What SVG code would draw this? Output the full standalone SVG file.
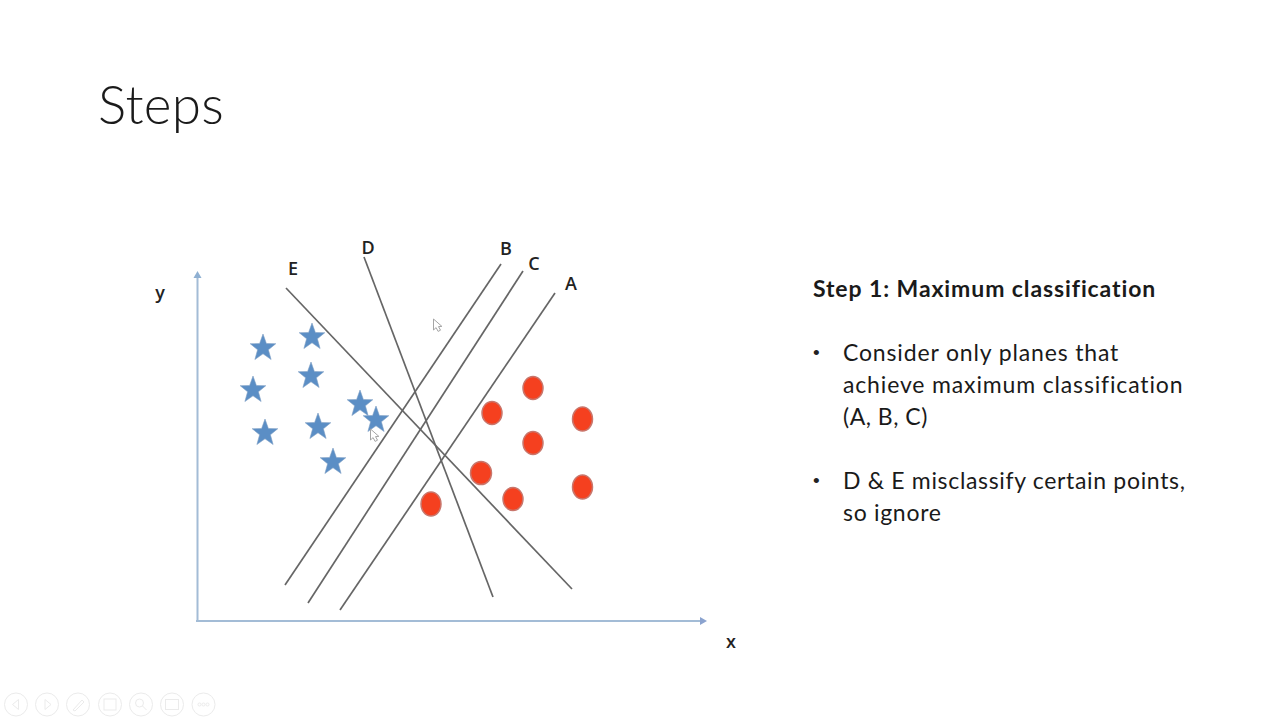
<svg xmlns="http://www.w3.org/2000/svg" width="1280" height="720" viewBox="0 0 1280 720">
<style>
.t{font-family:"Lato","Open Sans","Liberation Sans",sans-serif;fill:#1a1a1a}
.body{font-size:23px;letter-spacing:.85px}
.bul{font-size:19px;font-family:"Liberation Sans",sans-serif;fill:#222}
.lab{font-size:18px;font-weight:600;text-anchor:middle;font-family:"Open Sans","Liberation Sans",sans-serif;fill:#222}
.plane{stroke:#666;stroke-width:1.7;fill:none}
.axis{stroke:#a3bcd6;stroke-width:2;fill:none}
.star{fill:#5b8ec5;stroke:#7f9fc4;stroke-width:.6}
.dot{fill:#f5401f;stroke:#c9766c;stroke-width:1.5}
.ctl{fill:none;stroke:#ebebeb;stroke-width:1}
.cur{fill:#fff;stroke:#a5a5a5;stroke-width:1}
</style>
<defs>
<polygon id="s" points="0,-14 3.4,-4.4 12.8,-4.3 5.4,1.8 8.1,11.5 0,5.8 -8.1,11.500 -5.4,1.8 -12.8,-4.3 -3.4,-4.4"/>
<path id="cursor" d="M0,0 L0,11 L2.6,8.6 L4.6,12.4 L7,11.2 L5,7.6 L8.4,7.4 Z"/>
</defs>
<rect width="1280" height="720" fill="#fff"/>
<text id="title" class="t" x="98" y="124" font-size="53" font-weight="300" letter-spacing=".3">Steps</text>

<g id="connectors">
<path class="axis" d="M197.500 621V276"/>
<path d="M197.500 271l-4 7h8z" fill="#8fb0d2"/>
<path class="axis" d="M196 621H701"/>
<path d="M707 621l-7-4v8z" fill="#8ba3cf"/>
<line class="plane" x1="364" y1="257" x2="493" y2="597"/>
<line class="plane" x1="286" y1="288" x2="572" y2="589"/>
<line class="plane" x1="501" y1="264" x2="285" y2="585"/>
<line class="plane" x1="523" y1="271" x2="308" y2="603"/>
<line class="plane" x1="555" y1="293" x2="340" y2="610"/>
</g>

<g id="labels">
<text class="lab" x="160" y="299">y</text>
<text class="lab" x="731" y="648">x</text>
<text class="lab" x="293" y="275">E</text>
<text class="lab" x="368" y="254">D</text>
<text class="lab" x="506" y="255">B</text>
<text class="lab" x="534" y="270">C</text>
<text class="lab" x="571" y="290">A</text>
</g>

<g id="stars">
<use href="#s" class="star" x="263" y="348"/>
<use href="#s" class="star" x="312" y="337"/>
<use href="#s" class="star" x="253" y="390"/>
<use href="#s" class="star" x="311" y="376"/>
<use href="#s" class="star" x="360" y="404"/>
<use href="#s" class="star" x="376" y="420"/>
<use href="#s" class="star" x="265" y="433"/>
<use href="#s" class="star" x="318" y="427"/>
<use href="#s" class="star" x="333" y="462"/>
</g>

<g id="dots">
<ellipse class="dot" cx="533" cy="388" rx="10" ry="11.500"/>
<ellipse class="dot" cx="492" cy="413" rx="10" ry="11.500"/>
<ellipse class="dot" cx="582.500" cy="419" rx="10" ry="12"/>
<ellipse class="dot" cx="533" cy="443" rx="10" ry="11.500"/>
<ellipse class="dot" cx="481" cy="473" rx="10.500" ry="11.500"/>
<ellipse class="dot" cx="513" cy="499" rx="10" ry="11.500"/>
<ellipse class="dot" cx="582.500" cy="487" rx="10" ry="12"/>
<ellipse class="dot" cx="431" cy="504" rx="10" ry="12"/>
</g>

<g id="cursors">
<use href="#cursor" class="cur" x="433.500" y="319"/>
<use href="#cursor" class="cur" x="370.500" y="429"/>
</g>

<g id="step-text">
<text class="t body" x="813" y="297" font-weight="700" style="letter-spacing:.9px">Step 1: Maximum classification</text>
<text class="bul" x="813" y="359">•</text>
<text class="t body" x="843" y="361">Consider only planes that</text>
<text class="t body" x="843" y="393">achieve maximum classification</text>
<text class="t body" x="843" y="425" style="letter-spacing:.5px">(A, B, C)</text>
<text class="bul" x="813" y="487">•</text>
<text class="t body" x="843" y="489" style="letter-spacing:.67px">D &amp; E misclassify certain points,</text>
<text class="t body" x="843" y="521" style="letter-spacing:.7px">so ignore</text>
</g>

<g id="slide-controls">
<circle class="ctl" cx="16" cy="704.500" r="11.500"/><path class="ctl" d="M18.500 699.500l-6 5 6 5z"/>
<circle class="ctl" cx="47" cy="704.500" r="11.500"/><path class="ctl" d="M45 699.500l6 5-6 5z"/>
<circle class="ctl" cx="78" cy="704.500" r="11.500"/><path class="ctl" d="M73 710l9-10 2 2-9 9z"/>
<circle class="ctl" cx="110" cy="704.500" r="11.500"/><rect class="ctl" x="104" y="699" width="12" height="11"/>
<circle class="ctl" cx="141" cy="704.500" r="11.500"/><circle class="ctl" cx="139.500" cy="703" r="4"/><path class="ctl" d="M142.500 706l4 4"/>
<circle class="ctl" cx="172" cy="704.500" r="11.500"/><rect class="ctl" x="165.500" y="699.500" width="13" height="10"/>
<circle class="ctl" cx="203.500" cy="704.500" r="11.500"/><circle class="ctl" cx="199.500" cy="704.500" r="1.500"/><circle class="ctl" cx="203.500" cy="704.500" r="1.500"/><circle class="ctl" cx="207.500" cy="704.500" r="1.500"/>
</g>
</svg>
